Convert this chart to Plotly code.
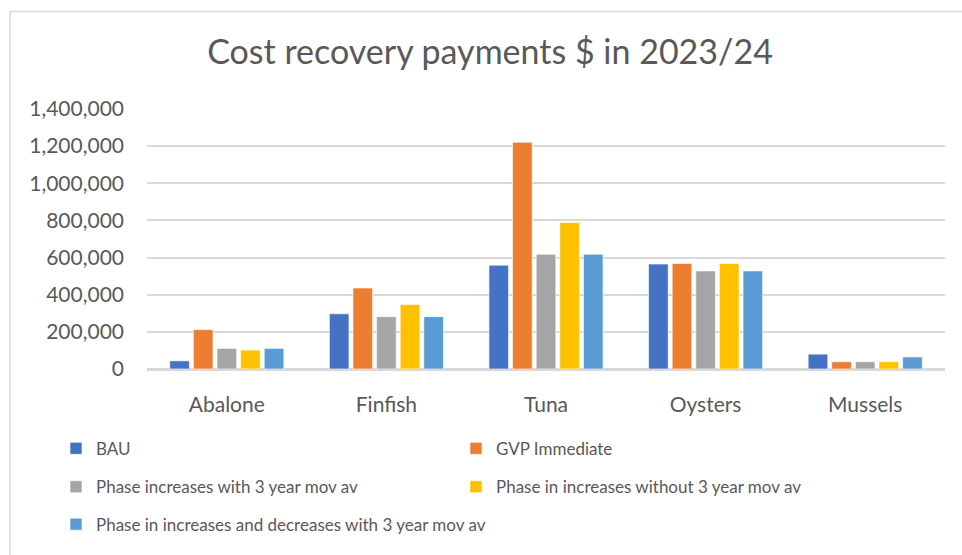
import plotly.graph_objects as go

categories = ["Abalone", "Finfish", "Tuna", "Oysters", "Mussels"]
series_names = [
    "BAU",
    "GVP Immediate",
    "Phase increases with 3 year mov av",
    "Phase in increases without 3 year mov av",
    "Phase in increases and decreases with 3 year mov av",
]
bau = [44000, 297000, 559000, 565000, 80000]
gvp_immediate = [212000, 436000, 1221000, 568000, 39000]
phase_with_mov = [111000, 282000, 618000, 528000, 39000]
phase_without_mov = [102000, 347000, 789000, 568000, 39000]
phase_inc_dec = [111000, 282000, 618000, 528000, 65000]
colors = ["#4472C4", "#ED7D31", "#A5A5A5", "#FFC000", "#5B9BD5"]
y_ticks = [0, 200000, 400000, 600000, 800000, 1000000, 1200000, 1400000]

values = [bau, gvp_immediate, phase_with_mov, phase_without_mov, phase_inc_dec]
legend_ids = ["legend", "legend", "legend2", "legend2", "legend3"]

W, H = 962, 555
L, R, T, B = 147, 17, 109, 182
pw, ph = W - L - R, H - T - B

def px_to_paper_x(px):
    return (px - L) / pw

def px_to_paper_y(py):
    return (H - B - py) / ph

fig = go.Figure()
for name, vals, col, lg in zip(series_names, values, colors, legend_ids):
    fig.add_trace(go.Bar(
        x=categories, y=vals, name=name, legend=lg,
        marker=dict(color=col, line=dict(color="rgba(255,255,255,0.6)", width=1)),
    ))

font_family = "Lato, 'Open Sans', sans-serif"
grey = "#595959"
legend_common = dict(
    orientation="h", xanchor="left", yanchor="middle",
    font=dict(family=font_family, size=17, color=grey),
    entrywidthmode="pixels",
    bgcolor="rgba(0,0,0,0)", itemwidth=30, traceorder="normal",
)

fig.update_layout(
    width=W, height=H,
    margin=dict(l=L, r=R, t=T, b=B),
    paper_bgcolor="white", plot_bgcolor="white",
    barmode="group", bargap=0.26, bargroupgap=0.17,
    title=dict(
        text="Cost recovery payments $ in 2023/24",
        x=490 / W, xref="container", xanchor="center",
        y=1 - 52 / H, yref="container", yanchor="middle",
        font=dict(family=font_family, size=34, color=grey),
    ),
    legend=dict(x=px_to_paper_x(56), y=px_to_paper_y(454), entrywidth=355, **legend_common),
    legend2=dict(x=px_to_paper_x(56), y=px_to_paper_y(493), entrywidth=355, **legend_common),
    legend3=dict(x=px_to_paper_x(56), y=px_to_paper_y(531), entrywidth=520, **legend_common),
    xaxis=dict(
        showgrid=False, showline=True, linecolor="#d9d9d9", linewidth=1.5,
        ticks="", ticklabelstandoff=16,
        tickfont=dict(family=font_family, size=21, color=grey),
    ),
    yaxis=dict(
        range=[0, 1400000], tickvals=y_ticks, tickformat=",",
        showgrid=True, gridcolor="#d9d9d9", gridwidth=1.5,
        zeroline=True, zerolinecolor="#d9d9d9", zerolinewidth=1.5,
        showline=False, ticks="", ticklabelstandoff=22,
        tickfont=dict(family=font_family, size=21, color=grey),
    ),
    shapes=[
        dict(type="line", xref="paper", yref="paper",
             x0=px_to_paper_x(10), x1=px_to_paper_x(980),
             y0=px_to_paper_y(10), y1=px_to_paper_y(10),
             line=dict(color="#d9d9d9", width=1.5)),
        dict(type="line", xref="paper", yref="paper",
             x0=px_to_paper_x(10), x1=px_to_paper_x(10),
             y0=px_to_paper_y(10), y1=px_to_paper_y(570),
             line=dict(color="#d9d9d9", width=1.5)),
    ],
)

fig.write_html("out.html")
